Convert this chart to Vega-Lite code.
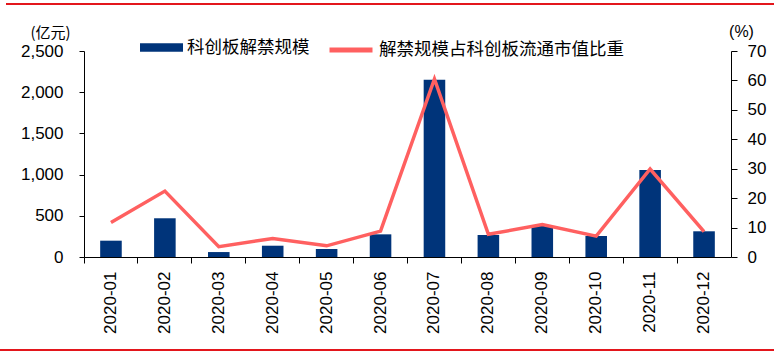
{
  "$schema": "https://vega.github.io/schema/vega-lite/v6.json",
  "width": 647,
  "height": 206,
  "autosize": {"type": "none"},
  "padding": {"left": 84, "top": 51, "right": 43, "bottom": 96},
  "background": "white",
  "config": {
    "view": {"stroke": null},
    "axis": {"grid": false, "domainColor": "#000", "tickColor": "#000", "labelColor": "#000", "labelFont": "Liberation Sans", "titleColor": "#000"},
    "legend": {"labelFont": "Noto Sans CJK SC", "labelFontSize": 17.5, "labelColor": "#000", "labelLimit": 400, "padding": 0, "title": null}
  },
  "data": {
    "values": [
      {"month": "2020-01", "amount": 198, "ratio": 11.7},
      {"month": "2020-02", "amount": 470, "ratio": 22.4},
      {"month": "2020-03", "amount": 60, "ratio": 3.5},
      {"month": "2020-04", "amount": 137, "ratio": 6.3},
      {"month": "2020-05", "amount": 97, "ratio": 3.8},
      {"month": "2020-06", "amount": 275, "ratio": 8.8},
      {"month": "2020-07", "amount": 2150, "ratio": 60.5},
      {"month": "2020-08", "amount": 267, "ratio": 7.7},
      {"month": "2020-09", "amount": 376, "ratio": 11.0},
      {"month": "2020-10", "amount": 255, "ratio": 7.1},
      {"month": "2020-11", "amount": 1056, "ratio": 29.9},
      {"month": "2020-12", "amount": 312, "ratio": 8.6}
    ]
  },
  "layer": [
    {
      "layer": [
        {
          "mark": {"type": "bar", "width": {"band": 0.4}},
          "encoding": {
            "x": {"field": "month", "type": "ordinal", "scale": {"paddingInner": 0, "paddingOuter": 0},
              "axis": {"title": null, "labelAngle": -90, "labelFontSize": 17, "labelPadding": 8, "tickSize": 6, "bandPosition": 0}},
            "y": {"field": "amount", "type": "quantitative", "scale": {"domain": [0, 2500]},
              "axis": {"title": "(亿元)", "titleFont": "Noto Sans CJK SC", "titleFontSize": 15, "titleFontWeight": "normal", "titleAngle": 0, "titleAlign": "center", "titleBaseline": "middle", "titleX": -34, "titleY": -19, "values": [0, 500, 1000, 1500, 2000, 2500], "format": ",.0f", "labelFontSize": 17, "tickSize": 5, "labelPadding": 16}},
            "fill": {"datum": "科创板解禁规模", "scale": {"range": ["#00347A"]},
              "legend": {"orient": "none", "legendX": 56, "legendY": -25, "symbolType": "M-1,-0.2L1,-0.2L1,0.2L-1,0.2Z", "symbolSize": 1849, "symbolStrokeWidth": 0}}
          }
        },
        {
          "mark": {"type": "line", "strokeWidth": 3.5},
          "encoding": {
            "x": {"field": "month", "type": "ordinal"},
            "y": {"field": "ratio", "type": "quantitative", "scale": {"domain": [0, 70]},
              "axis": {"orient": "right", "title": "(%)", "titleFont": "Liberation Sans", "titleFontSize": 16, "titleFontWeight": "normal", "titleAngle": 0, "titleAlign": "center", "titleBaseline": "middle", "titleX": 10, "titleY": -20, "values": [0, 10, 20, 30, 40, 50, 60, 70], "labelFontSize": 17, "tickSize": 6, "labelPadding": 10}},
            "stroke": {"datum": "解禁规模占科创板流通市值比重", "scale": {"range": ["#FF6060"]},
              "legend": {"orient": "none", "legendX": 243, "legendY": -25, "symbolType": "stroke", "symbolSize": 1849, "symbolStrokeWidth": 5}}
          }
        }
      ],
      "resolve": {"scale": {"y": "independent"}}
    },
    {
      "mark": {"type": "rule", "color": "#E3161C", "strokeWidth": 2},
      "encoding": {
        "x": {"datum": -0.12, "type": "quantitative", "scale": {"domain": [0, 1]}, "axis": null},
        "x2": {"datum": 1.066},
        "y": {"datum": 1.228, "type": "quantitative", "scale": {"domain": [0, 1]}, "axis": null}
      }
    },
    {
      "mark": {"type": "rule", "color": "#E3161C", "strokeWidth": 2},
      "encoding": {
        "x": {"datum": -0.13, "type": "quantitative", "scale": {"domain": [0, 1]}, "axis": null},
        "x2": {"datum": 1.066},
        "y": {"datum": -0.451, "type": "quantitative", "scale": {"domain": [0, 1]}, "axis": null}
      }
    }
  ],
  "resolve": {"scale": {"x": "independent", "y": "independent"}}
}
